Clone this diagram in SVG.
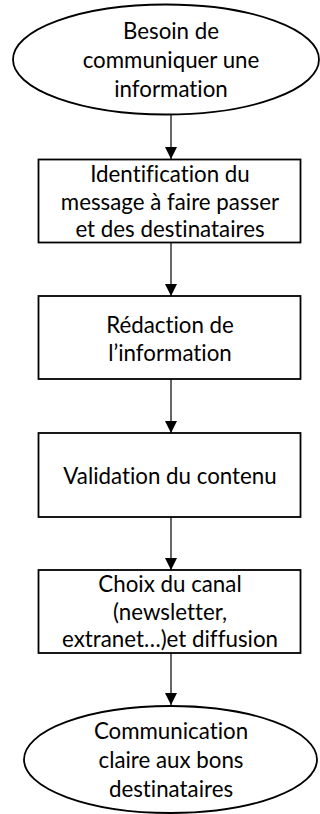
<svg xmlns="http://www.w3.org/2000/svg" width="320" height="814" viewBox="0 0 320 814">
<style>
  .shape { fill: #fff; stroke: #000; stroke-width: 1.8; }
  .conn { stroke: #000; stroke-width: 1.2; fill: none; }
  text { font-family: Lato, "Open Sans", sans-serif; font-size: 22.3px; fill: #000; text-anchor: middle; font-variant-ligatures: none; }
</style>
<defs>
  <marker id="arrow" markerWidth="12" markerHeight="13" refX="12" refY="6" orient="auto" markerUnits="userSpaceOnUse">
    <path d="M0,0 L12,6 L0,12 Z" fill="#000"/>
  </marker>
</defs>
<rect width="320" height="814" fill="#fff"/>
<g id="connectors">
  <line class="conn" x1="171" y1="115" x2="171" y2="159" marker-end="url(#arrow)"/>
  <line class="conn" x1="171" y1="243" x2="171" y2="296" marker-end="url(#arrow)"/>
  <line class="conn" x1="171" y1="379" x2="171" y2="433" marker-end="url(#arrow)"/>
  <line class="conn" x1="171" y1="517" x2="171" y2="570" marker-end="url(#arrow)"/>
  <line class="conn" x1="171" y1="653" x2="171" y2="705" marker-end="url(#arrow)"/>
</g>
<g id="start">
  <ellipse class="shape" cx="166" cy="59.5" rx="153" ry="55"/>
  <text x="171" y="39">Besoin de</text>
  <text x="171" y="68">communiquer une</text>
  <text x="171" y="97">information</text>
</g>
<g id="identification">
  <rect class="shape" x="38.5" y="159.5" width="262" height="83"/>
  <text x="170" y="182">Identification du</text>
  <text x="170" y="210">message à faire passer</text>
  <text x="170" y="237">et des destinataires</text>
</g>
<g id="redaction">
  <rect class="shape" x="38.5" y="296" width="262" height="83"/>
  <text x="170" y="333">Rédaction de</text>
  <text x="170" y="361">l’information</text>
</g>
<g id="validation">
  <rect class="shape" x="38.5" y="433" width="262" height="84"/>
  <text x="170" y="484">Validation du contenu</text>
</g>
<g id="choix">
  <rect class="shape" x="38.5" y="570" width="262" height="83"/>
  <text x="170" y="592">Choix du canal</text>
  <text x="170" y="620">(newsletter,</text>
  <text x="170" y="647">extranet…)et diffusion</text>
</g>
<g id="end">
  <ellipse class="shape" cx="170.5" cy="759.5" rx="146.5" ry="53.5"/>
  <text x="171" y="739">Communication</text>
  <text x="171" y="768">claire aux bons</text>
  <text x="171" y="797">destinataires</text>
</g>
</svg>
